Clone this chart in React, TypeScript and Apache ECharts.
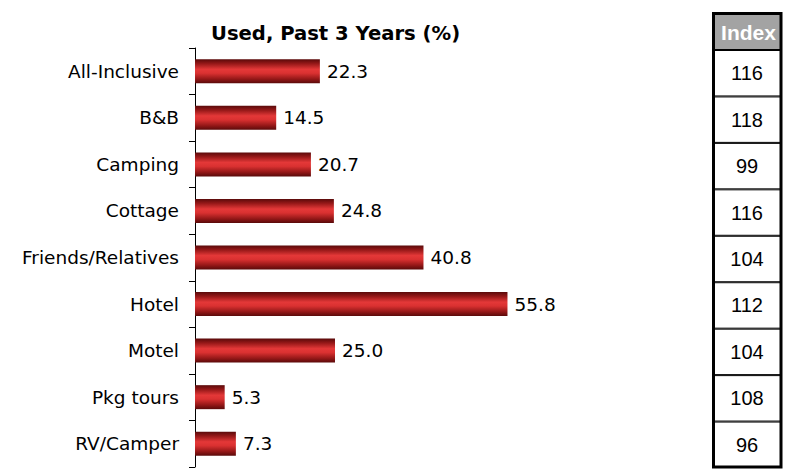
import React, { useEffect, useRef } from "react";
import * as echarts from "echarts";

const categories = [
  "All-Inclusive",
  "B&B",
  "Camping",
  "Cottage",
  "Friends/Relatives",
  "Hotel",
  "Motel",
  "Pkg tours",
  "RV/Camper",
];
const usedValues = [22.3, 14.5, 20.7, 24.8, 40.8, 55.8, 25.0, 5.3, 7.3];
const indexValues = [116, 118, 99, 116, 104, 112, 104, 108, 96];
const titleText = "Used, Past 3 Years (%)";
const indexHeader = "Index";

export default function App() {
  const ref = useRef<HTMLDivElement>(null);

  useEffect(() => {
    if (!ref.current) return;
    const chart = echarts.init(ref.current, null, { renderer: "svg" });
    const barGradient = new echarts.graphic.LinearGradient(0, 0, 0, 1, [
      { offset: 0, color: "#5a0a0a" },
      { offset: 0.18, color: "#951818" },
      { offset: 0.42, color: "#e43838" },
      { offset: 0.58, color: "#da3131" },
      { offset: 0.82, color: "#951818" },
      { offset: 1, color: "#5a0a0a" },
    ]);
    chart.setOption({
      animation: false,
      backgroundColor: "#ffffff",
      title: {
        text: titleText,
        left: 206,
        top: 18,
        textStyle: {
          fontFamily: "DejaVu Sans",
          fontWeight: "bold",
          fontSize: 19.6,
          color: "#000",
        },
      },
      grid: [
        { left: 195, top: 48, width: 448, height: 419 },
        { left: 713, top: 50, width: 68, height: 418 },
      ],
      xAxis: [
        { type: "value", min: 0, max: 80, show: false, gridIndex: 0 },
        { type: "value", min: 0, max: 1, show: false, gridIndex: 1 },
      ],
      yAxis: [
        {
          type: "category",
          data: categories,
          inverse: true,
          gridIndex: 0,
          axisLine: { show: true, lineStyle: { color: "#000", width: 1 } },
          axisTick: { show: true, length: 6, lineStyle: { color: "#000" } },
          axisLabel: {
            fontFamily: "DejaVu Sans",
            fontSize: 18.5,
            color: "#000",
            margin: 16,
          },
          splitLine: { show: false },
        },
        {
          type: "category",
          data: categories,
          inverse: true,
          gridIndex: 1,
          show: false,
        },
      ],
      series: [
        {
          type: "bar",
          xAxisIndex: 0,
          yAxisIndex: 0,
          data: usedValues,
          barWidth: 24,
          itemStyle: { color: barGradient },
          label: {
            show: true,
            position: "right",
            distance: 7,
            fontFamily: "DejaVu Sans",
            fontSize: 18.5,
            color: "#000",
            formatter: (p: any) => Number(p.value).toFixed(1),
          },
        },
        {
          type: "bar",
          xAxisIndex: 1,
          yAxisIndex: 1,
          data: indexValues.map(() => 1),
          barWidth: "100%",
          itemStyle: { color: "#fff", borderColor: "#000", borderWidth: 1 },
          label: {
            show: true,
            position: "inside",
            fontFamily: "Liberation Sans",
            fontSize: 20,
            color: "#000",
            formatter: (p: any) => String(indexValues[p.dataIndex]),
          },
        },
      ],
      graphic: [
        {
          type: "rect",
          z: 90,
          shape: { x: 713, y: 13, width: 68, height: 37 },
          style: { fill: "#a3a3a3" },
        },
        {
          type: "text",
          z: 95,
          x: 748.5,
          y: 32,
          style: {
            text: indexHeader,
            fill: "#fff",
            fontFamily: "Liberation Sans",
            fontWeight: "bold",
            fontSize: 21,
            textAlign: "center",
            textVerticalAlign: "middle",
          },
        },
        {
          type: "line",
          z: 96,
          shape: { x1: 713, y1: 50, x2: 781, y2: 50 },
          style: { stroke: "#000", lineWidth: 2 },
        },
        {
          type: "rect",
          z: 100,
          shape: { x: 713.5, y: 13.5, width: 67.5, height: 453.5 },
          style: { fill: "transparent", stroke: "#000", lineWidth: 3 },
        },
      ],
    });
    return () => chart.dispose();
  }, []);

  return (
    <div
      ref={ref}
      style={{ position: "fixed", left: 0, top: 0, width: 788, height: 470 }}
    />
  );
}
